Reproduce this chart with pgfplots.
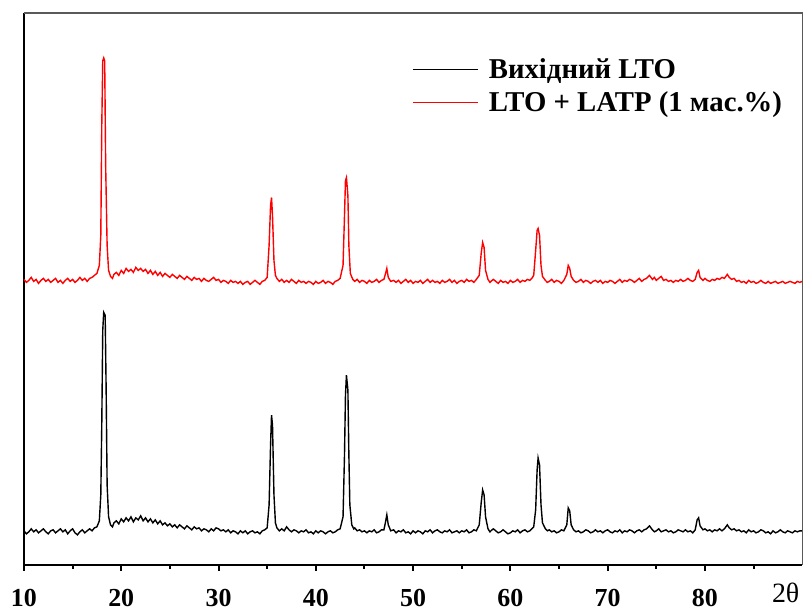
\documentclass[border=0pt]{standalone}
\usepackage{fontspec}
\setmainfont{Liberation Serif}
\usepackage{pgfplots}
\usepackage{pgfplotstable}
\pgfplotsset{compat=1.18}

% pristine LTO
\pgfplotstableread{
x y
10.0 34
10.25 31
10.5 33
10.75 36
11.0 33
11.25 35
11.5 32
11.75 34
12.0 36
12.25 33
12.5 31
12.75 34
13.0 35
13.25 32
13.5 34
13.75 36
14.0 33
14.25 35
14.5 31
14.75 34
15.0 36
15.25 32
15.5 30
15.75 33
16.0 35
16.25 32
16.5 34
16.75 36
17.0 34
17.25 37
17.5 38
17.75 44
17.9 70
18.0 140
18.1 235
18.2 253
18.35 250
18.45 175
18.55 80
18.7 48
18.9 40
19.1 38
19.25 42
19.5 44
19.75 41
20.0 46
20.25 43
20.5 47
20.75 44
21.0 48
21.25 43
21.5 47
21.75 45
22.0 49
22.25 44
22.5 47
22.75 43
23.0 46
23.25 42
23.5 45
23.75 41
24.0 44
24.25 40
24.5 42
24.75 39
25.0 41
25.25 38
25.5 40
25.75 37
26.0 40
26.25 38
26.5 36
26.75 39
27.0 37
27.25 35
27.5 38
27.75 36
28.0 37
28.25 34
28.5 36
28.75 35
29.0 33
29.25 36
29.5 34
29.75 37
30.0 36
30.25 34
30.5 35
30.75 33
31.0 35
31.25 32
31.5 34
31.75 33
32.0 31
32.25 34
32.5 32
32.75 34
33.0 31
33.25 33
33.5 34
33.75 32
34.0 33
34.25 31
34.5 34
34.75 35
35.0 37
35.2 60
35.35 120
35.45 150
35.55 140
35.7 70
35.85 42
36.0 37
36.25 34
36.5 36
36.75 34
37.0 38
37.25 35
37.5 33
37.75 35
38.0 34
38.25 32
38.5 34
38.75 33
39.0 35
39.25 32
39.5 33
39.75 31
40.0 34
40.25 32
40.5 34
40.75 33
41.0 31
41.25 33
41.5 34
41.75 32
42.0 33
42.25 35
42.5 36
42.8 48
42.95 110
43.05 170
43.15 190
43.3 175
43.4 110
43.5 60
43.7 40
43.9 36
44.0 37
44.25 34
44.5 35
44.75 33
45.0 34
45.25 32
45.5 34
45.75 33
46.0 35
46.25 32
46.5 33
46.75 35
47.0 35
47.15 42
47.3 50
47.45 40
47.7 34
48.0 35
48.25 32
48.5 34
48.75 33
49.0 35
49.25 32
49.5 33
49.75 31
50.0 34
50.25 32
50.5 34
50.75 33
51.0 31
51.25 34
51.5 33
51.75 35
52.0 32
52.25 34
52.5 35
52.75 33
53.0 32
53.25 34
53.5 33
53.75 35
54.0 32
54.25 33
54.5 34
54.75 32
55.0 34
55.25 33
55.5 35
55.75 32
56.0 33
56.25 35
56.5 34
56.8 40
57.0 62
57.15 75
57.3 70
57.45 48
57.7 36
57.9 33
58.0 34
58.25 36
58.5 34
58.75 32
59.0 33
59.25 35
59.5 33
59.75 31
60.0 32
60.25 34
60.5 33
60.75 35
61.0 32
61.25 34
61.5 35
61.75 33
62.0 34
62.2 36
62.4 38
62.6 55
62.75 95
62.85 107
63.0 100
63.15 60
63.3 42
63.6 36
63.8 34
64.0 35
64.25 33
64.5 34
64.75 32
65.0 33
65.25 35
65.5 34
65.8 40
65.95 57
66.1 54
66.25 40
66.5 35
66.75 33
67.0 34
67.25 32
67.5 33
67.75 35
68.0 34
68.25 32
68.5 33
68.75 35
69.0 33
69.25 34
69.5 32
69.75 34
70.0 35
70.25 33
70.5 32
70.75 34
71.0 33
71.25 35
71.5 32
71.75 34
72.0 33
72.25 35
72.5 34
72.75 32
73.0 34
73.25 35
73.5 33
73.75 35
74.0 36
74.3 39
74.6 35
74.8 33
75.0 34
75.25 36
75.5 33
75.75 34
76.0 35
76.25 33
76.5 34
76.75 32
77.0 33
77.25 35
77.5 34
77.75 33
78.0 35
78.25 33
78.5 34
78.75 32
79.0 35
79.2 45
79.35 47
79.5 39
79.8 35
80.0 36
80.25 34
80.5 35
80.75 33
81.0 35
81.25 34
81.5 36
81.75 34
82.0 36
82.3 40
82.5 37
82.75 35
83.0 36
83.25 34
83.5 35
83.75 33
84.0 34
84.25 32
84.5 35
84.75 33
85.0 34
85.25 32
85.5 33
85.75 35
86.0 34
86.25 32
86.5 33
86.75 31
87.0 34
87.25 32
87.5 33
87.75 35
88.0 33
88.25 32
88.5 34
88.75 33
89.0 32
89.25 34
89.5 33
89.75 34
90.0 34
}\lto

% LTO + LATP
\pgfplotstableread{
x y
10.0 286
10.25 283
10.5 285
10.75 288
11.0 284
11.25 286
11.5 282
11.75 285
12.0 287
12.25 284
12.5 286
12.75 283
13.0 285
13.25 287
13.5 283
13.75 285
14.0 282
14.25 285
14.5 287
14.75 284
15.0 286
15.25 283
15.5 285
15.75 288
16.0 285
16.25 287
16.5 284
16.75 287
17.0 288
17.25 290
17.5 292
17.75 300
17.9 330
18.0 440
18.1 505
18.2 508
18.3 505
18.4 400
18.55 320
18.7 295
18.9 289
19.1 287
19.25 291
19.5 293
19.75 290
20.0 295
20.25 292
20.5 297
20.75 294
21.0 296
21.25 293
21.5 298
21.75 295
22.0 297
22.25 294
22.5 296
22.75 292
23.0 295
23.25 291
23.5 294
23.75 290
24.0 293
24.25 289
24.5 292
24.75 290
25.0 288
25.25 291
25.5 289
25.75 287
26.0 290
26.25 288
26.5 286
26.75 289
27.0 287
27.25 285
27.5 288
27.75 286
28.0 287
28.25 284
28.5 287
28.75 285
29.0 284
29.25 286
29.5 288
29.75 285
30.0 286
30.25 283
30.5 285
30.75 284
31.0 282
31.25 285
31.5 283
31.75 284
32.0 282
32.25 284
32.5 281
32.75 283
33.0 284
33.25 281
33.5 283
33.75 285
34.0 283
34.25 281
34.5 284
34.75 285
35.0 288
35.2 320
35.35 360
35.45 368
35.55 350
35.7 305
35.85 290
36.0 287
36.25 284
36.5 286
36.75 283
37.0 285
37.25 283
37.5 286
37.75 284
38.0 282
38.25 285
38.5 283
38.75 284
39.0 282
39.25 284
39.5 283
39.75 281
40.0 284
40.25 282
40.5 283
40.75 285
41.0 282
41.25 284
41.5 283
41.75 281
42.0 284
42.25 285
42.5 287
42.8 300
42.95 350
43.05 385
43.15 388
43.3 370
43.4 320
43.55 292
43.8 286
44.0 284
44.25 286
44.5 283
44.75 285
45.0 284
45.25 282
45.5 285
45.75 283
46.0 284
46.25 286
46.5 283
46.75 285
47.0 286
47.2 293
47.3 297
47.45 288
47.7 284
48.0 285
48.25 283
48.5 285
48.75 282
49.0 284
49.25 286
49.5 283
49.75 285
50.0 282
50.25 284
50.5 283
50.75 285
51.0 282
51.25 284
51.5 286
51.75 283
52.0 285
52.25 283
52.5 284
52.75 282
53.0 285
53.25 283
53.5 284
53.75 286
54.0 283
54.25 285
54.5 282
54.75 284
55.0 285
55.25 283
55.5 286
55.75 284
56.0 285
56.25 283
56.5 286
56.8 290
57.0 312
57.15 323
57.3 318
57.45 295
57.7 286
57.9 283
58.0 284
58.25 286
58.5 284
58.75 282
59.0 285
59.25 283
59.5 284
59.75 282
60.0 285
60.25 283
60.5 284
60.75 286
61.0 283
61.25 285
61.5 284
61.75 286
62.0 285
62.2 287
62.4 290
62.6 315
62.75 335
62.85 337
63.0 330
63.15 300
63.3 289
63.6 285
63.8 283
64.0 284
64.25 286
64.5 283
64.75 285
65.0 284
65.25 282
65.5 285
65.8 291
65.95 300
66.1 297
66.25 289
66.5 285
66.75 283
67.0 284
67.25 286
67.5 283
67.75 285
68.0 284
68.25 282
68.5 284
68.75 285
69.0 283
69.25 285
69.5 282
69.75 284
70.0 283
70.25 285
70.5 284
70.75 282
71.0 284
71.25 286
71.5 283
71.75 285
72.0 284
72.25 286
72.5 285
72.75 283
73.0 285
73.25 287
73.5 284
73.75 286
74.0 287
74.3 290
74.6 286
74.8 288
75.0 285
75.25 287
75.5 289
75.75 285
76.0 286
76.25 284
76.5 285
76.75 283
77.0 285
77.25 284
77.5 286
77.75 284
78.0 285
78.25 287
78.5 285
78.75 284
79.0 286
79.2 293
79.35 295
79.5 288
79.8 285
80.0 287
80.25 285
80.5 284
80.75 286
81.0 285
81.25 287
81.5 286
81.75 288
82.0 287
82.3 291
82.5 288
82.75 286
83.0 287
83.25 284
83.5 285
83.75 283
84.0 284
84.25 282
84.5 285
84.75 283
85.0 284
85.25 282
85.5 283
85.75 285
86.0 283
86.25 282
86.5 284
86.75 282
87.0 283
87.25 284
87.5 282
87.75 283
88.0 284
88.25 282
88.5 283
88.75 284
89.0 283
89.25 282
89.5 284
89.75 283
90.0 284
}\latp

\begin{document}
\begin{tikzpicture}
\begin{axis}[
    scale only axis,
    width=390pt,
    height=276.5pt,
    xmin=10, xmax=90,
    ymin=0, ymax=553,
    axis lines=left,
    axis line style={-, line width=1pt},
    xtick={10,20,...,80},
    minor xtick={15,25,...,85},
    ytick=\empty,
    tick align=outside,
    major tick length=3pt,
    minor tick length=2pt,
    every tick/.style={black, line width=1pt},
    /pgf/number format/assume math mode=true,
    xticklabel style={font=\fontsize{13}{15}\selectfont\bfseries, yshift=-5.5pt},
    legend style={draw=none, fill=none, at={(axis cs:49.3,516)}, anchor=north west,
        font=\fontsize{14.4}{17}\selectfont\bfseries, row sep=1pt},
    legend cell align=left,
    legend image code/.code={\draw[#1] (0pt,0pt) -- (32.5pt,0pt); \path (35.5pt,0pt);},
    clip=false,
]
\addplot[black, line width=0.7pt] table[x=x, y=y] {\lto};
\addlegendentry{Вихідний LTO}
\addplot[red, line width=0.7pt] table[x=x, y=y] {\latp};
\addlegendentry{LTO + LATP (1 мас.\%)}

\draw[gray!70!black, line width=0.6pt] (rel axis cs:0,1) -- (rel axis cs:1,1) -- (rel axis cs:1,0);
\node[font=\fontsize{14}{16}\selectfont] at (axis cs:88.3,-28) {2θ};
\end{axis}
\path[use as bounding box] ([shift={(-12pt,-21.5pt)}]current axis.south west)
    rectangle ([shift={(1pt,6.5pt)}]current axis.north east);
\end{tikzpicture}
\end{document}
